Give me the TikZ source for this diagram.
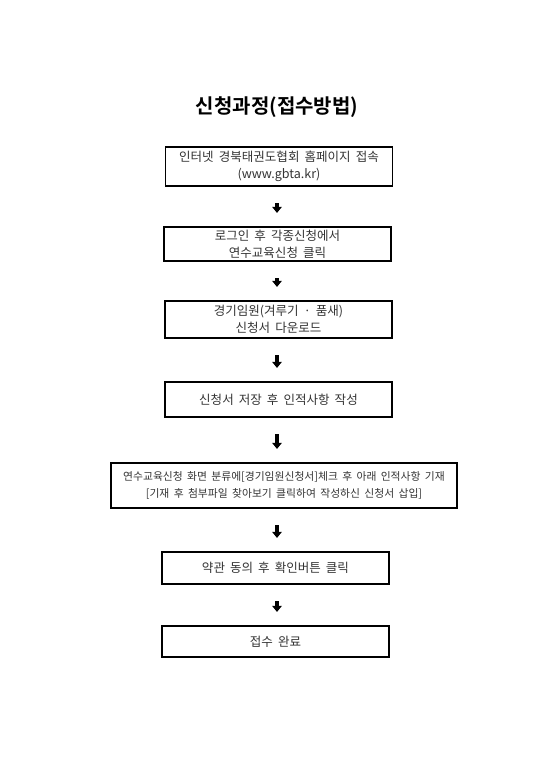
\documentclass[tikz,border=0pt]{standalone}
\usepackage{fontspec}
\usepackage{xcolor}
\setmainfont{Noto Sans CJK KR}[WordSpace=1.8]
\newfontfamily\krbold{Noto Sans CJK KR}[BoldFont={* Bold}]
\usetikzlibrary{positioning, arrows.meta}

\begin{document}
\begin{tikzpicture}[
  x=0.75pt, y=-0.75pt,
  stepbox/.style={draw, line width=1.1pt, minimum width=170pt, align=center, inner sep=0pt,
    text=black!80, font=\fontsize{9.4}{12.75}\selectfont},
  down/.style={line width=2.4pt, -{Triangle[width=7pt, length=4.5pt]}, shorten <=12.5pt, shorten >=10pt}
]
  \useasboundingbox (0,0) rectangle (538,765);

  \node[font=\krbold\bfseries\fontsize{15}{18}\selectfont] (title) at (277,107) {신청과정(접수방법)};

  % steps
  \node[stepbox, minimum height=29.25pt] (visit) at (279,166.5) {인터넷 경북태권도협회 홈페이지 접속\\(www.gbta.kr)};
  \node[stepbox, minimum height=25.5pt] (login) at (277.5,244) {로그인 후 각종신청에서\\연수교육신청 클릭};
  \node[stepbox, minimum height=27.75pt] (form) at (278.5,319.5) {경기임원(겨루기 · 품새)\\신청서 다운로드};
  \node[stepbox, minimum height=26.25pt] (write) at (278.5,399.5) {신청서 저장 후 인적사항 작성};
  \node[stepbox, minimum width=259.5pt, minimum height=33.75pt, font=\fontsize{8.1}{12.75}\selectfont] (attach) at (284,485.5)
    {연수교육신청 화면 분류에[경기임원신청서]체크 후 아래 인적사항 기재\\{[}기재 후 첨부파일 찾아보기 클릭하여 작성하신 신청서 삽입{]}};
  \node[stepbox, minimum height=24pt] (agree) at (275.5,568) {약관 동의 후 확인버튼 클릭};
  \node[stepbox, minimum height=23.25pt] (done) at (275.5,641.5) {접수 완료};

  % arrows
  \draw[down] (visit.south -| 277,0) -- (login.north -| 277,0);
  \draw[down] (login.south -| 277,0) -- (form.north -| 277,0);
  \draw[down] (form.south -| 277,0) -- (write.north -| 277,0);
  \draw[down] (write.south -| 277,0) -- (attach.north -| 277,0);
  \draw[down] (attach.south -| 277,0) -- (agree.north -| 277,0);
  \draw[down] (agree.south -| 277,0) -- (done.north -| 277,0);
\end{tikzpicture}
\end{document}
